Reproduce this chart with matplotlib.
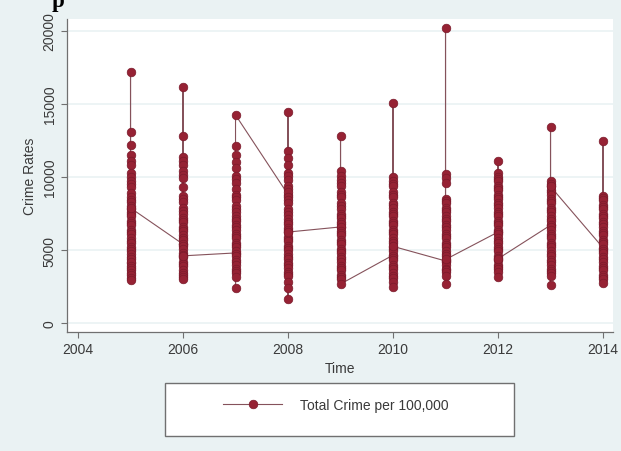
import matplotlib
matplotlib.use("Agg")
import matplotlib.pyplot as plt
from matplotlib.patches import Rectangle
from matplotlib.lines import Line2D

# ---- data ----
years = [2005, 2006, 2007, 2008, 2009, 2010, 2011, 2012, 2013, 2014]

y2005 = [4100, 17190, 13100, 12200, 11500, 11100, 10800, 10300, 10000, 9700, 9500, 9300,
         8900, 8600, 8450, 8300, 8000, 7800, 7600, 7450, 7300, 7000, 6850, 6700, 6400,
         6250, 6100, 5800, 5650, 5500, 5200, 5050, 4900, 4700, 4500, 4350, 4200, 3900,
         3750, 3600, 3450, 3300, 3100, 2950, 7880]
y2006 = [5400, 16160, 12800, 11400, 11100, 10800, 10400, 10150, 9900, 9300, 8700, 8500,
         8300, 7900, 7700, 7500, 7200, 7050, 6900, 6600, 6450, 6300, 6000, 5850, 5700,
         5400, 5250, 5100, 4800, 4650, 4500, 4200, 4050, 3900, 3600, 3450, 3300, 3150,
         3010, 4600]
y2007 = [4800, 12100, 11500, 11000, 10600, 10100, 9850, 9600, 9200, 8800, 8600, 8400,
         8000, 7800, 7600, 7300, 7150, 7000, 6700, 6550, 6400, 6100, 5950, 5800, 5500,
         5350, 5200, 4900, 4750, 4600, 4300, 4150, 4000, 3700, 3550, 3400, 3150, 2400,
         14250]
y2008 = [8800, 14450, 11800, 11300, 10800, 10300, 10050, 9800, 9400, 9200, 9000, 8600,
         8400, 8200, 7800, 7600, 7400, 7100, 6950, 6800, 6500, 6350, 6200, 5900, 5750,
         5600, 5300, 5150, 5000, 4700, 4550, 4400, 4100, 3950, 3800, 3500, 3350, 3200,
         2800, 2400, 1640, 6230]
y2009 = [6580, 12800, 10400, 10100, 9800, 9600, 9400, 9000, 8800, 8600, 8200, 8000,
         7800, 7500, 7350, 7200, 6900, 6750, 6600, 6300, 6150, 6000, 5700, 5550, 5400,
         5100, 4950, 4800, 4500, 4350, 4200, 3900, 3750, 3600, 3300, 3150, 3000, 2670]
y2010 = [4650, 15070, 10000, 9700, 9550, 9400, 9000, 8800, 8600, 8200, 8050, 7900,
         7600, 7450, 7300, 7000, 6850, 6700, 6400, 6250, 6100, 5800, 5650, 5500, 5200,
         5050, 4900, 4600, 4450, 4300, 4000, 3850, 3700, 3400, 3250, 3100, 2800, 2470,
         5250]
y2011 = [4250, 20200, 10200, 9900, 9600, 8500, 8350, 8200, 7900, 7750, 7600, 7300,
         7150, 7000, 6700, 6550, 6400, 6100, 5950, 5800, 5500, 5350, 5200, 4900, 4750,
         4600, 4300, 4150, 4000, 3700, 3600, 3500, 3200, 2650, 4350]
y2012 = [6230, 11100, 10300, 10000, 9850, 9700, 9400, 9250, 9100, 8800, 8650, 8500,
         8200, 8050, 7900, 7600, 7450, 7300, 7000, 6850, 6700, 6400, 6250, 6100, 5800,
         5650, 5500, 5200, 5050, 4900, 4600, 4450, 4300, 4000, 3850, 3700, 3500, 3150,
         4400]
y2013 = [6700, 13420, 9700, 9550, 9400, 9100, 8950, 8800, 8500, 8350, 8200, 7900,
         7750, 7600, 7300, 7150, 7000, 6700, 6550, 6400, 6100, 5950, 5800, 5500, 5350,
         5200, 4900, 4750, 4600, 4300, 4150, 4000, 3700, 3550, 3400, 3200, 2600, 9350]
y2014 = [5150, 12470, 8700, 8550, 8400, 8100, 7950, 7800, 7500, 7350, 7200, 6900,
         6750, 6600, 6300, 6150, 6000, 5700, 5550, 5400, 5100, 4950, 4800, 4500, 4350,
         4200, 3900, 3750, 3600, 3300, 3150, 3000, 2740]

series = [y2005, y2006, y2007, y2008, y2009, y2010, y2011, y2012, y2013, y2014]

xticks = [2004, 2006, 2008, 2010, 2012, 2014]
yticks = [0, 5000, 10000, 15000, 20000]
series_label = "Total Crime per 100,000"
x_title = "Time"
y_title = "Crime Rates"

# ---- build the connected sequence (sorted by year) ----
xs, ys = [], []
for yr, vals in zip(years, series):
    xs.extend([yr] * len(vals))
    ys.extend(vals)

# ---- styling ----
bg = "#eaf2f3"
mface = "#962234"
medge = "#7a1a2b"
lcol = "#85525b"
axcol = "#707070"
txtcol = "#3a3a3a"
plt.rcParams["font.family"] = ["Liberation Sans", "DejaVu Sans"]

fig = plt.figure(figsize=(6.21, 4.52), dpi=100, facecolor=bg)
ax = fig.add_axes([67 / 621, 1 - 333 / 452, (613 - 67) / 621, (333 - 20) / 452])
ax.set_facecolor("white")

ax.plot(xs, ys, color=lcol, lw=0.8, marker="o", markersize=6.2,
        markerfacecolor=mface, markeredgecolor=medge, markeredgewidth=0.5,
        label=series_label, zorder=3)

ax.set_xlim(2003.79, 2014.19)
ax.set_ylim(-616, 20822)
ax.set_xticks(xticks)
ax.set_yticks(yticks)
ax.set_yticklabels([str(v) for v in yticks], rotation=90, va="center")

ax.yaxis.grid(True, color=bg, lw=1.2, zorder=0)
ax.set_axisbelow(True)

for s in ["top", "right"]:
    ax.spines[s].set_visible(False)
for s in ["left", "bottom"]:
    ax.spines[s].set_color(axcol)
    ax.spines[s].set_linewidth(0.9)

ax.tick_params(axis="both", colors=axcol, length=4.5, width=0.8,
               labelsize=10, labelcolor=txtcol)
ax.tick_params(axis="y", pad=3)
ax.tick_params(axis="x", pad=3)

ax.set_xlabel(x_title, fontsize=10, color=txtcol, labelpad=3)
ax.set_ylabel(y_title, fontsize=10, color=txtcol, labelpad=4)

# legend box (Stata style, below the plot)
box = Rectangle((165 / 621, 1 - 437 / 452), 349 / 621, 53 / 452,
                transform=fig.transFigure, facecolor="white",
                edgecolor="#707070", lw=1.0, zorder=1)
fig.patches.append(box)
handle = Line2D([], [], color=lcol, lw=0.8, marker="o", markersize=6.2,
                markerfacecolor=mface, markeredgecolor=medge, markeredgewidth=0.5)
leg = fig.legend([handle], [series_label], loc="center",
                 bbox_to_anchor=(336 / 621, 1 - 406 / 452), frameon=False,
                 fontsize=10, handlelength=4.25, handletextpad=1.3, numpoints=1)
for t in leg.get_texts():
    t.set_color(txtcol)

# cropped page text at the very top-left (as in the reference)
fig.text(52 / 621, 1 - 7 / 452, "p", fontsize=16.5, fontweight="bold",
         family=["Liberation Serif", "DejaVu Serif"], color="black",
         va="baseline", ha="left")

fig.savefig("out.png", dpi=100, facecolor=bg)
